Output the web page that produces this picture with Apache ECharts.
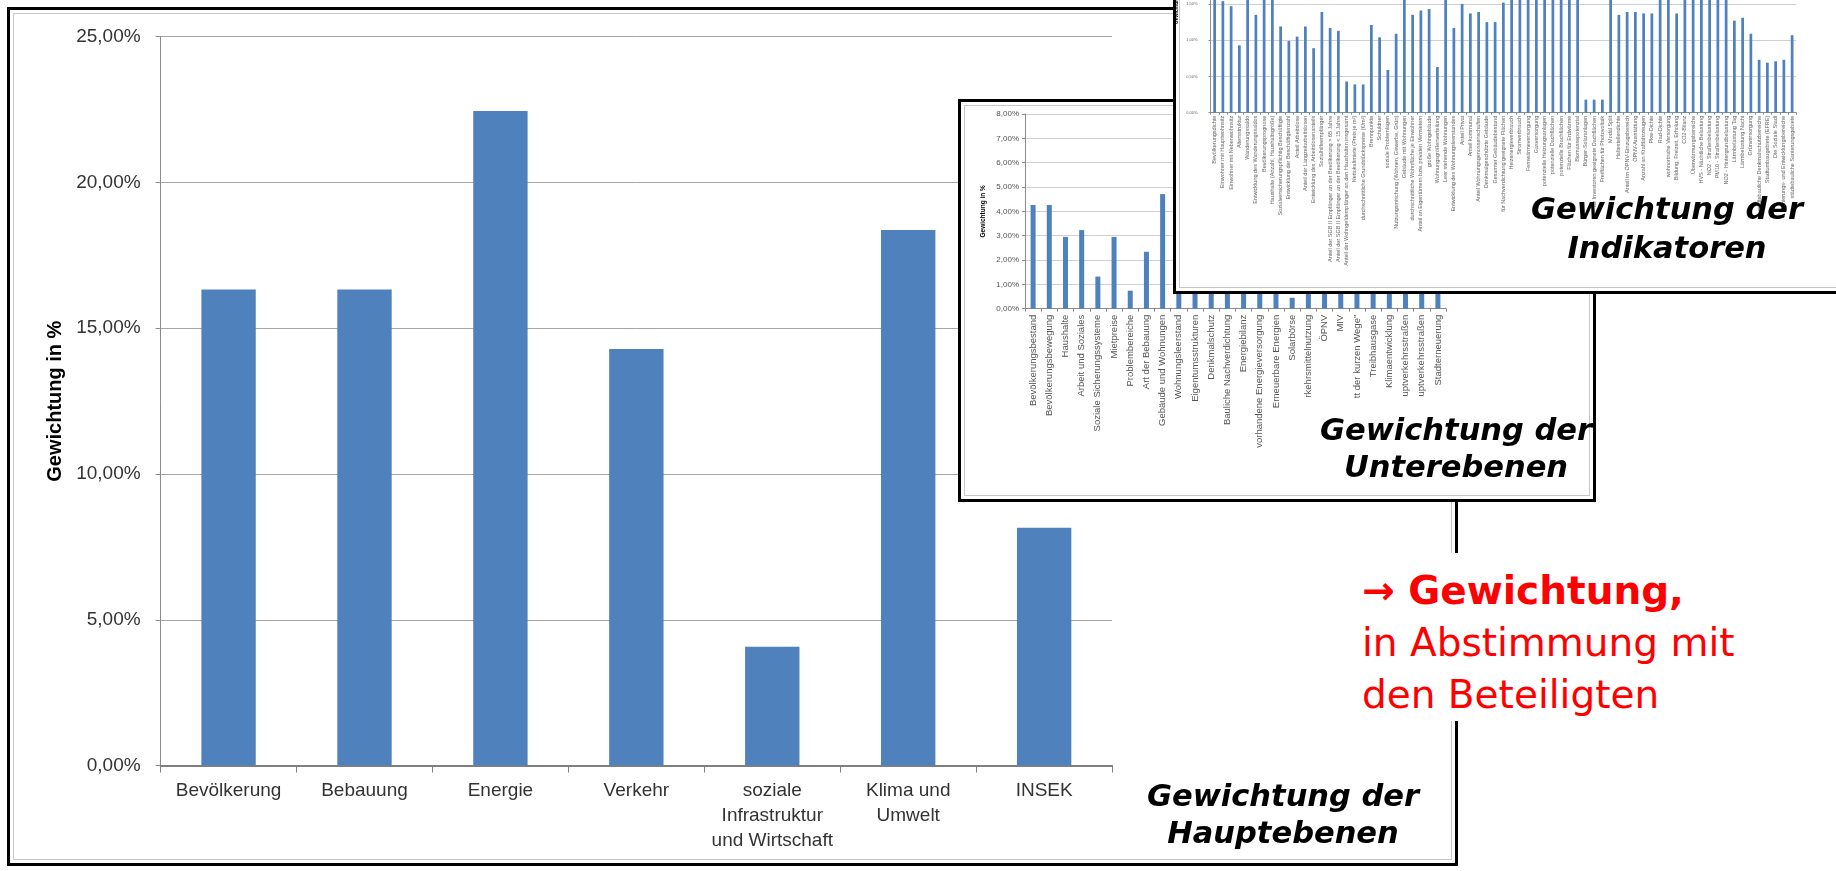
<!DOCTYPE html>
<html>
<head>
<meta charset="utf-8">
<script src="https://cdn.jsdelivr.net/npm/echarts@6/dist/echarts.min.js"></script>
<style>
html, body { margin: 0; padding: 0; width: 1836px; height: 871px; overflow: hidden; background: #fff; }
.frame { position: absolute; box-sizing: border-box; border: 3px solid #000; background: #fff; overflow: hidden; }
.frame .inner { position: absolute; left: 3px; top: 3px; right: 3px; bottom: 3px; border: 1.5px solid #c8c8c8; pointer-events: none; }
.chart { position: absolute; }
.caption { position: absolute; font-family: "DejaVu Sans", sans-serif; font-weight: bold; font-style: italic;
  font-size: 30.5px; line-height: 37px; text-align: center; color: #000; white-space: nowrap; }
#note { position: absolute; left: 1350px; top: 553px; width: 440px; height: 168px; box-sizing: border-box;
  padding: 12px 0 0 12px; background: #fff; z-index: 4;
  font-family: "DejaVu Sans", sans-serif; font-size: 39px; line-height: 52px; color: #ff0000; white-space: nowrap; }
#note b { font-weight: bold; }
</style>
</head>
<body>

<div class="frame" id="fMain" style="left:7px; top:7px; width:1451px; height:859px; z-index:1;">
  <div class="inner"></div>
  <div class="chart" id="cMain" style="left:-10px; top:-10px; width:1836px; height:871px;"></div>
  <div class="caption" style="left:1118px; top:767px; width:310px;">Gewichtung der<br>Hauptebenen</div>
</div>

<div class="frame" id="fUnter" style="left:958px; top:99px; width:638px; height:403px; z-index:2;">
  <div class="inner"></div>
  <div class="chart" id="cUnter" style="left:-961px; top:-102px; width:1836px; height:871px;"></div>
  <div class="caption" style="left:340px; top:309px; width:310px;">Gewichtung der<br>Unterebenen</div>
</div>

<div class="frame" id="fInd" style="left:1173px; top:-20px; width:700px; height:314px; z-index:3;">
  <div class="inner"></div>
  <div class="chart" id="cInd" style="left:-1176px; top:-183px; width:1836px; height:1071px;"></div>
  <div class="caption" style="left:336px; top:206px; width:310px; line-height:39px;">Gewichtung der<br>Indikatoren</div>
</div>

<div id="note"><b>&#8594; Gewichtung,</b><br>in Abstimmung mit<br>den Beteiligten</div>

<script>
// ---- Hauptebenen (main categories), weights in percent ----
const hauptKategorien = ['Bevölkerung', 'Bebauung', 'Energie', 'Verkehr',
  'soziale\nInfrastruktur\nund Wirtschaft', 'Klima und\nUmwelt', 'INSEK'];
const hauptWerte = [16.33, 16.33, 22.45, 14.29, 4.08, 18.37, 8.16];
const hauptAchse = [0, 25, 5];          // min, max, step

// ---- Unterebenen (sub levels) ----
const unterKategorien = ['Bevölkerungsbestand', 'Bevölkerungsbewegung', 'Haushalte', 'Arbeit und Soziales',
  'Soziale Sicherungssysteme', 'Mietpreise', 'Problembereiche', 'Art der Bebauung', 'Gebäude und Wohnungen',
  'Wohnungsleerstand', 'Eigentumsstrukturen', 'Denkmalschutz', 'Bauliche Nachverdichtung', 'Energiebilanz',
  'vorhandene Energieversorgung', 'Erneuerbare Energien', 'Solarbörse', 'rkehrsmittelnutzung', 'ÖPNV', 'MIV',
  'tt der kurzen Wege"', 'Treibhausgase', 'Klimaentwicklung', 'uptverkehrsstraßen', 'uptverkehrsstraßen',
  'Stadterneuerung'];
const unterWerte = [4.26, 4.26, 2.95, 3.23, 1.32, 2.95, 0.74, 2.34, 4.71,
  1.6, 1.2, 1.3, 1.5, 7.4, 7.3, 7.3, 0.45, 3.6, 3.6, 3.5, 3.6, 4.6, 4.6, 4.6, 4.6, 4.1];
const unterAchse = [0, 8, 1];

// ---- Indikatoren (indicators) ----
const indKategorien = ['Bevölkerungsdichte', 'Einwohner mit Hauptwohnsitz', 'Einwohner mit Nebenwohnsitz',
  'Altersstruktur', 'Wanderungssaldo', 'Entwicklung des Wanderungssaldos', 'Bevölkerungsprognose',
  'Haushalte (Anzahl, Haushaltsgröße)', 'Sozialversicherungspflichtig Beschäftigte',
  'Entwicklung der Beschäftigtenzahl', 'Anteil Arbeitslose', 'Anteil der Langzeitarbeitslosen',
  'Entwicklung des Arbeitslosenanteils', 'Sozialhilfeempfänger',
  'Anteil der SGB II Empfänger an der Bevölkerung > 65 Jahre',
  'Anteil der SGB II Empfänger an der Bevölkerung < 15 Jahre',
  'Anteil der Wohngeldempfänger an den Haushalten insgesamt', 'Nettokaltmiete (Preis je m²)',
  'durchschnittliche Grundstückspreise (€/m²)', 'Brennpunkte', 'Schuldner', 'soziale Problemlagen',
  'Nutzungsmischung (Wohnen, Gewerbe, Grün)', 'Gebäude mit Wohnungen',
  'durchschnittliche Wohnfläche je Einwohner', 'Anteil an Eigentümern bzw. privaten Vermietern',
  'große Wohngebäude', 'Wohnungsgrößenverteilung', 'Leer stehende Wohnungen',
  'Entwicklung des Wohnungsleerstandes', 'Anteil Privat', 'Anteil kommunal',
  'Anteil Wohnungsgenossenschaften', 'Denkmalgeschützte Gebäude', 'Gesamter Gebäudebestand',
  'für Nachverdichtung geeignete Flächen', 'Heizenergieverbrauch', 'Stromverbrauch',
  'Fernwärmeversorgung', 'Gasversorgung', 'potenzielle Heizungsanlagen', 'potenzielle Dachflächen',
  'potenzielle Brachflächen', 'Flächen für Erdwärme', 'Biomassepotenzial', 'Bürger-Solaranlagen',
  'für Investoren geeignete Dachflächen', 'Freiflächen für Photovoltaik', 'Modal Split',
  'Haltestellendichte', 'Anteil im ÖPNV-Einzugsbereich', 'ÖPNV-Ausstattung', 'Anzahl an Kraftfahrzeugen',
  'Pkw-Dichte', 'Rad-Dichte', 'wohnortnahe Versorgung', 'Bildung, Freizeit, Erholung', 'CO2-Bilanz',
  'Überwärmungsbereiche', 'HVS - Nächtliche Belastung', 'NO2 - Straßenbelastung', 'PM10 - Straßenbelastung',
  'NO2 - Hintergrundbelastung', 'Lärmbelastung Tag', 'Lärmbelastung Nacht', 'Grünversorgung',
  'städtebauliche Denkmalschutzbereiche', 'Stadtumbaugebiete (EFRE)', 'Die Soziale Stadt',
  'Sanierungs- und Entwicklungsbereiche', 'städtebauliche Sanierungsgebiete'];
const indWerte = [1.72, 1.54, 1.47, 0.93, 1.63, 1.35, 1.80, 1.80, 1.19, 0.99, 1.05, 1.19, 0.89, 1.39,
  1.17, 1.13, 0.43, 0.39, 0.39, 1.21, 1.04, 0.59, 1.09, 1.68, 1.35, 1.41, 1.43, 0.63, 1.75, 1.17, 1.50,
  1.37, 1.39, 1.25, 1.25, 1.52, 2.60, 2.40, 2.50, 2.45, 2.55, 2.50, 2.40, 2.60, 2.48, 0.18, 0.18, 0.18,
  1.70, 1.35, 1.39, 1.39, 1.37, 1.37, 1.86, 1.86, 1.37, 1.94, 1.94, 1.94, 1.94, 1.94, 1.94, 1.27, 1.31,
  1.09, 0.73, 0.69, 0.71, 0.73, 1.07];
const indAchse = [0, 3, 0.5];

const BAR = '#4f81bd';
const pct = v => v.toFixed(2).replace('.', ',') + '%';

function barChart(el, cfg) {
  const chart = echarts.init(document.getElementById(el), null, { renderer: 'canvas' });
  chart.setOption({
    animation: false,
    grid: { left: cfg.grid[0], top: cfg.grid[1], width: cfg.grid[2], height: cfg.grid[3],
            containLabel: false, outerBoundsMode: 'none' },
    xAxis: {
      type: 'category', data: cfg.cats,
      axisLine: { lineStyle: { color: cfg.axisColor, width: cfg.axisWidth } },
      axisTick: { show: true, length: cfg.tickLen, lineStyle: { color: cfg.axisColor } },
      axisLabel: Object.assign({ interval: 0, color: cfg.labelColor, fontFamily: cfg.font }, cfg.xLabel)
    },
    yAxis: {
      type: 'value', min: cfg.axis[0], max: cfg.axis[1], interval: cfg.axis[2],
      name: 'Gewichtung in %', nameLocation: 'middle', nameRotate: 90, nameGap: cfg.nameGap,
      nameTextStyle: { fontFamily: cfg.font, fontWeight: 'bold', fontSize: cfg.nameSize, color: '#000' },
      axisLine: { show: true, lineStyle: { color: cfg.yAxisColor, width: 1 } },
      axisTick: { show: true, length: cfg.yTickLen, lineStyle: { color: cfg.yAxisColor } },
      splitLine: { lineStyle: { color: cfg.gridColor, width: 1 } },
      axisLabel: { formatter: pct, color: cfg.labelColor, fontFamily: cfg.font,
                   fontSize: cfg.yLabelSize, margin: cfg.yLabelMargin }
    },
    series: [{ type: 'bar', data: cfg.values, barWidth: cfg.barWidth,
               itemStyle: { color: BAR }, silent: true }]
  });
}

const FONT = '"Liberation Sans", Arial, sans-serif';

// main chart (page coordinates)
barChart('cMain', {
  cats: hauptKategorien, values: hauptWerte, axis: hauptAchse,
  grid: [160.6, 36.7, 951.5, 728.9], font: FONT,
  axisColor: '#7f7f7f', axisWidth: 2, tickLen: 7, yAxisColor: '#8c8c8c', yTickLen: 5,
  gridColor: '#a6a6a6', labelColor: '#333333',
  xLabel: { fontSize: 19, lineHeight: 25, margin: 13 },
  yLabelSize: 19, yLabelMargin: 20, nameGap: 95, nameSize: 20, barWidth: '40%'
});

// sub level chart
barChart('cUnter', {
  cats: unterKategorien, values: unterWerte, axis: unterAchse,
  grid: [1025, 114, 421, 194.7], font: FONT,
  axisColor: '#8c8c8c', axisWidth: 1, tickLen: 3, yAxisColor: '#8c8c8c', yTickLen: 3,
  gridColor: '#d0d0d0', labelColor: '#555555',
  xLabel: { fontSize: 9.5, rotate: 90, margin: 6 },
  yLabelSize: 8, yLabelMargin: 6, nameGap: 38, nameSize: 6.5, barWidth: '31%'
});

// indicator chart (its canvas starts 200px above the page)
barChart('cInd', {
  cats: indKategorien, values: indWerte, axis: indAchse,
  grid: [1210.5, 95.3, 585.75, 217.4], font: FONT,
  axisColor: '#8c8c8c', axisWidth: 1, tickLen: 2, yAxisColor: '#8c8c8c', yTickLen: 2,
  gridColor: '#d0d0d0', labelColor: '#666666',
  xLabel: { fontSize: 5.5, rotate: 90, margin: 3 },
  yLabelSize: 4, yLabelMargin: 13, nameGap: 31, nameSize: 5, barWidth: '33%'
});
</script>
</body>
</html>
